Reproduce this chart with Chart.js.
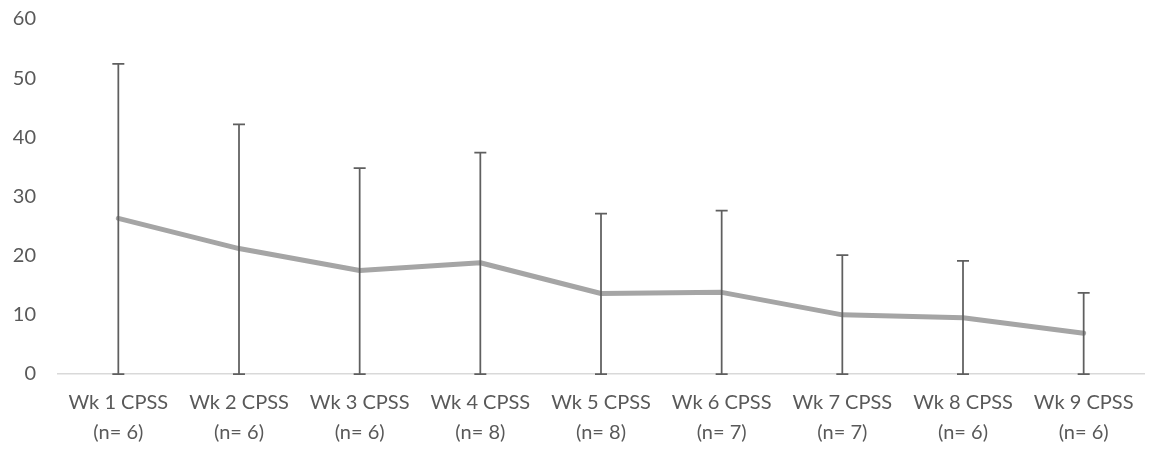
<!DOCTYPE html>
<html>
<head>
<meta charset="utf-8">
<script src="https://cdn.jsdelivr.net/npm/chart.js@4.4.1/dist/chart.umd.min.js"></script>
<style>
  html, body { margin: 0; padding: 0; background: #fff; }
  #wrap { width: 1149px; height: 452px; }
</style>
</head>
<body>
<div id="wrap"><canvas id="cpssChart"></canvas></div>
<script>
// Data
const weeks = ['Wk 1 CPSS', 'Wk 2 CPSS', 'Wk 3 CPSS', 'Wk 4 CPSS', 'Wk 5 CPSS', 'Wk 6 CPSS', 'Wk 7 CPSS', 'Wk 8 CPSS', 'Wk 9 CPSS'];
const nCounts = [6, 6, 6, 8, 8, 7, 7, 6, 6];
const means = [26.3, 21.2, 17.5, 18.8, 13.6, 13.8, 10.0, 9.5, 6.9];
const errTop = [52.4, 42.2, 34.8, 37.4, 27.1, 27.6, 20.1, 19.1, 13.7];
const errBottom = [0, 0, 0, 0, 0, 0, 0, 0, 0];
const yTicks = [0, 10, 20, 30, 40, 50, 60];

const labels = weeks.map((w, i) => [w, '(n= ' + nCounts[i] + ')']);

// Error bars (drawn through the scales, caps at both ends)
const errorBars = {
    id: 'errorBars',
    afterDatasetsDraw(chart) {
        const { ctx, scales: { x, y } } = chart;
        ctx.save();
        ctx.strokeStyle = '#5f5f5f';
        ctx.lineWidth = 1.75;
        const cap = 6;
        errTop.forEach((top, i) => {
            const px = x.getPixelForValue(i);
            const yt = y.getPixelForValue(top);
            const yb = y.getPixelForValue(errBottom[i]);
            ctx.beginPath();
            ctx.moveTo(px, yt);
            ctx.lineTo(px, yb);
            ctx.moveTo(px - cap, yt);
            ctx.lineTo(px + cap, yt);
            ctx.moveTo(px - cap, yb);
            ctx.lineTo(px + cap, yb);
            ctx.stroke();
        });
        ctx.restore();
    }
};

const ctx = document.getElementById('cpssChart').getContext('2d');
const cpssChart = new Chart(ctx, {
    type: 'line',
    data: {
        labels: labels,
        datasets: [{
            data: means,
            borderColor: '#a5a5a5',
            borderWidth: 5,
            borderCapStyle: 'round',
            borderJoinStyle: 'round',
            pointRadius: 0,
            tension: 0
        }]
    },
    options: {
        responsive: true,
        maintainAspectRatio: false,
        animation: false,
        layout: { padding: { top: 19, right: 5, left: 0, bottom: 0 } },
        plugins: {
            legend: { display: false },
            tooltip: { enabled: false }
        },
        scales: {
            x: {
                offset: true,
                grid: { display: false, drawTicks: false },
                border: { display: true, color: '#d9d9d9', width: 1.5 },
                ticks: {
                    color: '#595959',
                    font: { family: 'Lato, "Open Sans", sans-serif', size: 20, lineHeight: 1.5 },
                    padding: 14,
                    maxRotation: 0,
                    autoSkip: false
                },
                afterFit: s => { s.height = 78; }
            },
            y: {
                min: 0,
                max: 60,
                afterBuildTicks: s => { s.ticks = yTicks.map(v => ({ value: v })); },
                grid: { display: false, drawTicks: true, tickLength: 22 },
                border: { display: false },
                ticks: {
                    color: '#595959',
                    font: { family: 'Lato, "Open Sans", sans-serif', size: 20 },
                    padding: 0
                },
                afterFit: s => { s.width = 58; }
            }
        }
    },
    plugins: [errorBars]
});
</script>
</body>
</html>
